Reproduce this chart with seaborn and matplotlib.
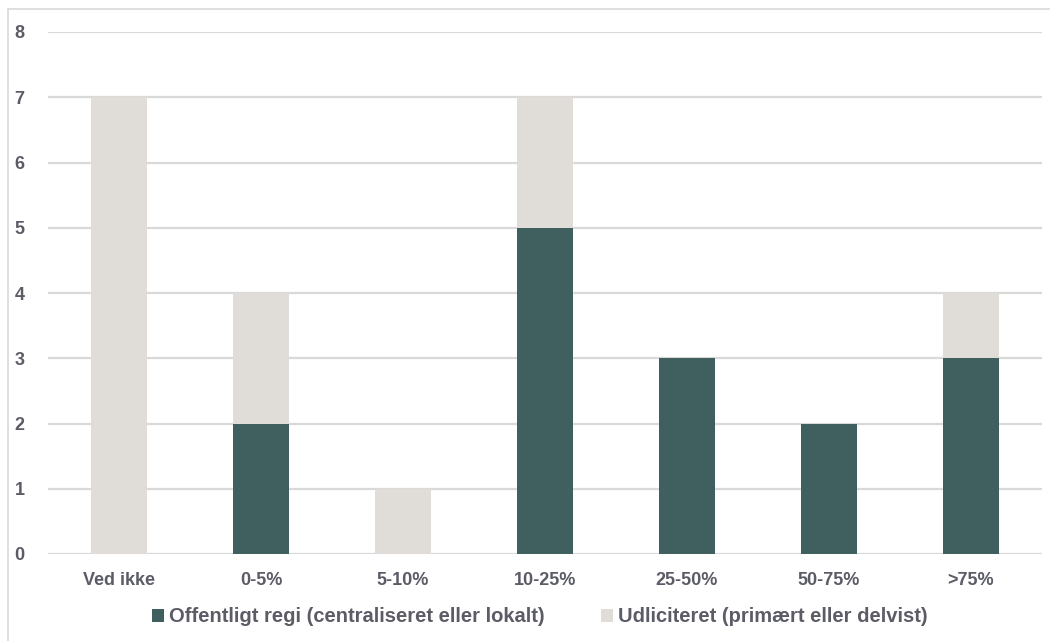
import matplotlib
matplotlib.use("Agg")
import matplotlib.pyplot as plt
from matplotlib.patches import Patch
from matplotlib.lines import Line2D
import seaborn as sns
import pandas as pd

categories = ["Ved ikke", "0-5%", "5-10%", "10-25%", "25-50%", "50-75%", ">75%"]
offentligt = [0, 2, 0, 5, 3, 2, 3]
udliciteret = [7, 2, 1, 2, 0, 0, 1]
series_names = ["Offentligt regi (centraliseret eller lokalt)",
                "Udliciteret (primært eller delvist)"]

DARK = "#40605F"
LIGHT = "#E0DDD8"
TEXT = "#5B5C66"
GRID = "#D9D9D9"

sns.set_theme(style="white")
plt.rcParams["font.family"] = ["Liberation Sans", "DejaVu Sans"]

df = pd.DataFrame({
    "kategori": categories,
    "offentligt": offentligt,
    "total": [a + b for a, b in zip(offentligt, udliciteret)],
})

fig = plt.figure(figsize=(10.5, 6.41), dpi=100)
ax = fig.add_axes([48 / 1050, 1 - 554 / 641, (1042 - 48) / 1050, (554 - 32) / 641])

# stacked bars: full height in light, public share drawn over it in dark
sns.barplot(data=df, x="kategori", y="total", color=LIGHT, width=0.4,
            saturation=1, linewidth=0, ax=ax, zorder=2)
sns.barplot(data=df, x="kategori", y="offentligt", color=DARK, width=0.4,
            saturation=1, linewidth=0, ax=ax, zorder=3)

ax.set_ylim(0, 8)
ax.set_xlim(-0.5, len(categories) - 0.5)
ax.set_yticks(range(0, 9))
ax.yaxis.grid(True, color=GRID, linewidth=1.6, zorder=0)
ax.set_axisbelow(True)
for s in ax.spines.values():
    s.set_visible(False)
ax.set_xlabel("")
ax.set_ylabel("")
ax.tick_params(axis="both", length=0, labelsize=13, labelcolor=TEXT)
ax.tick_params(axis="x", pad=13)
ax.tick_params(axis="y", pad=17)
for lbl in ax.get_xticklabels() + ax.get_yticklabels():
    lbl.set_fontweight("bold")

handles = [Patch(facecolor=DARK, edgecolor="none"),
           Patch(facecolor=LIGHT, edgecolor="none")]
leg = fig.legend(handles, series_names, loc="center", ncol=2,
                 bbox_to_anchor=(540 / 1050, 1 - 617 / 641), frameon=False,
                 handlelength=0.6, handleheight=0.6, handletextpad=0.25,
                 columnspacing=2.8,
                 prop={"size": 14.5, "weight": "bold"})
for t in leg.get_texts():
    t.set_color(TEXT)

# outer chart frame
fig.add_artist(Line2D([8 / 1050, 1.0], [1 - 9 / 641] * 2, color=GRID,
                      linewidth=1.2, transform=fig.transFigure))
fig.add_artist(Line2D([8 / 1050] * 2, [0, 1 - 9 / 641], color=GRID,
                      linewidth=1.2, transform=fig.transFigure))

fig.savefig("out.png", dpi=100, facecolor="white")
